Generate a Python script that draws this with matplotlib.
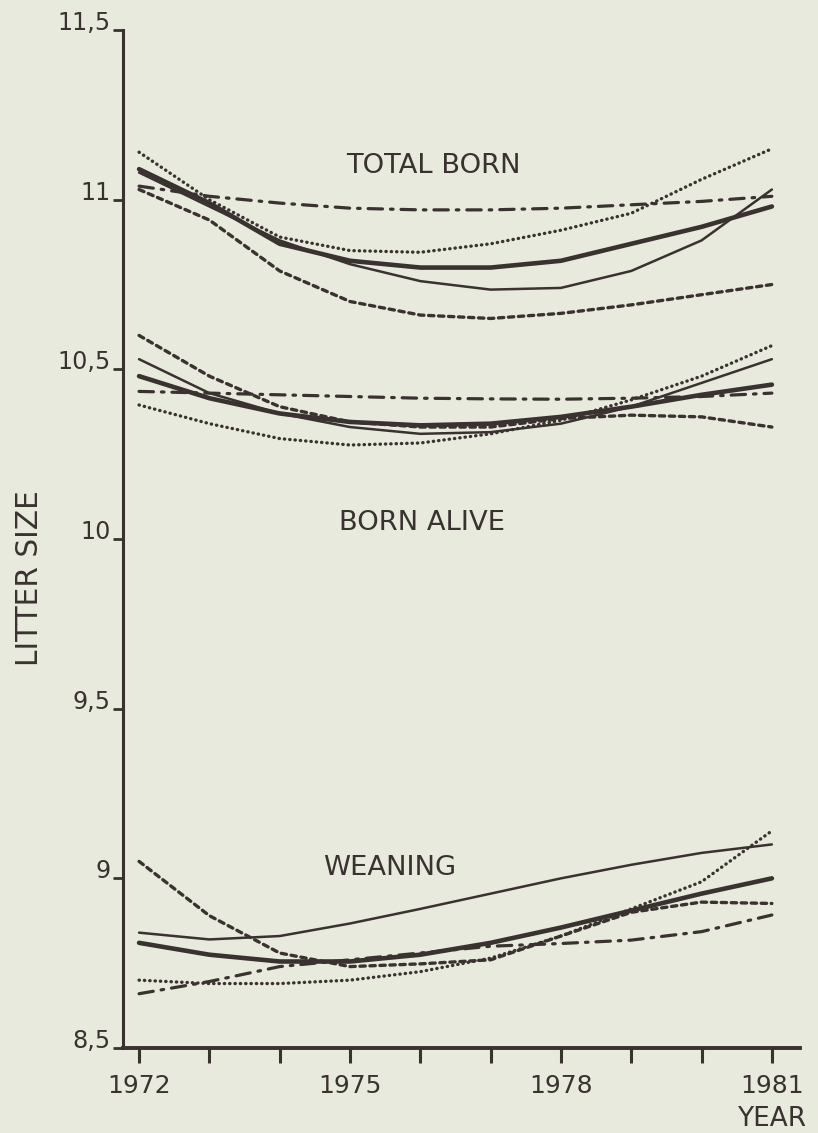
import matplotlib.pyplot as plt
from matplotlib import font_manager

# years on the x axis
years = [1972, 1973, 1974, 1975, 1976, 1977, 1978, 1979, 1980, 1981]
year_labels = ['1972', '', '', '1975', '', '', '1978', '', '', '1981']
y_ticks = [8.5, 9.0, 9.5, 10.0, 10.5, 11.0, 11.5]
y_labels = ['8,5', '9', '9,5', '10', '10,5', '11', '11,5']

# total born
tb_dashdot = [11.04, 11.01, 10.99, 10.975, 10.97, 10.97, 10.975, 10.985, 10.995, 11.01]
tb_dotted = [11.14, 11.00, 10.89, 10.85, 10.845, 10.87, 10.91, 10.96, 11.06, 11.15]
tb_thick = [11.09, 10.99, 10.87, 10.82, 10.80, 10.80, 10.82, 10.87, 10.92, 10.98]
tb_thin = [11.08, 10.98, 10.88, 10.81, 10.76, 10.735, 10.74, 10.79, 10.88, 11.03]
tb_dashed = [11.03, 10.94, 10.79, 10.70, 10.66, 10.65, 10.665, 10.69, 10.72, 10.75]

# born alive
ba_dashed = [10.60, 10.48, 10.39, 10.345, 10.33, 10.33, 10.355, 10.365, 10.36, 10.33]
ba_thin = [10.53, 10.43, 10.37, 10.33, 10.31, 10.315, 10.34, 10.39, 10.46, 10.53]
ba_thick = [10.48, 10.415, 10.37, 10.345, 10.335, 10.34, 10.36, 10.39, 10.425, 10.455]
ba_dashdot = [10.435, 10.43, 10.425, 10.42, 10.415, 10.413, 10.412, 10.415, 10.42, 10.43]
ba_dotted = [10.395, 10.34, 10.296, 10.277, 10.283, 10.31, 10.35, 10.41, 10.48, 10.57]

# weaning
we_thin = [8.84, 8.82, 8.83, 8.867, 8.91, 8.955, 9.0, 9.04, 9.075, 9.10]
we_thick = [8.81, 8.775, 8.755, 8.755, 8.775, 8.81, 8.855, 8.905, 8.955, 9.0]
we_dashed = [9.05, 8.89, 8.78, 8.74, 8.748, 8.76, 8.83, 8.90, 8.93, 8.926]
we_dashdot = [8.66, 8.696, 8.74, 8.76, 8.78, 8.80, 8.808, 8.818, 8.843, 8.892]
we_dotted = [8.70, 8.69, 8.69, 8.70, 8.725, 8.765, 8.83, 8.91, 8.99, 9.14]

bg = '#e8eadd'
ink = '#3a3230'

# pick a narrow face if one is installed, else shrink DejaVu
names = {f.name for f in font_manager.fontManager.ttflist}
if 'Liberation Sans Narrow' in names:
    font, k = ['Liberation Sans Narrow', 'DejaVu Sans'], 1.0
elif 'DejaVu Sans Condensed' in names:
    font, k = ['DejaVu Sans Condensed', 'DejaVu Sans'], 0.92
else:
    font, k = ['DejaVu Sans'], 0.82

fig = plt.figure(figsize=(8.18, 11.33), dpi=100, facecolor=bg)
ax = fig.add_axes([0.1504, 0.075, 0.8276, 0.8985], facecolor=bg)

styles = {
    'thick': dict(lw=3.3, ls='-'),
    'thin': dict(lw=1.8, ls='-'),
    'dashed': dict(lw=2.4, ls=(0, (1.6, 1.4))),
    'dotted': dict(lw=2.4, ls=(0, (0.1, 1.5))),
    'dashdot': dict(lw=2.3, ls=(0, (4.5, 2.5, 0.8, 2.5))),
}

groups = [
    (tb_dashdot, 'dashdot'), (tb_dotted, 'dotted'), (tb_thick, 'thick'),
    (tb_thin, 'thin'), (tb_dashed, 'dashed'),
    (ba_dashed, 'dashed'), (ba_thin, 'thin'), (ba_thick, 'thick'),
    (ba_dashdot, 'dashdot'), (ba_dotted, 'dotted'),
    (we_thin, 'thin'), (we_thick, 'thick'), (we_dashed, 'dashed'),
    (we_dashdot, 'dashdot'), (we_dotted, 'dotted'),
]
for vals, st in groups:
    ax.plot(years, vals, color=ink, solid_capstyle='round',
            dash_capstyle='round', **styles[st])

ax.set_xlim(1971.772, 1981.40)
ax.set_ylim(8.5, 11.5)

for s in ['top', 'right']:
    ax.spines[s].set_visible(False)
ax.spines['left'].set_linewidth(2.2)
ax.spines['bottom'].set_linewidth(2.8)
ax.spines['left'].set_color(ink)
ax.spines['bottom'].set_color(ink)

ax.set_xticks(years)
ax.set_xticklabels(year_labels, family=font, fontsize=22 * k, color=ink)
ax.set_yticks(y_ticks)
ax.set_yticklabels(y_labels, family=font, fontsize=21 * k, color=ink)
for lab in ax.get_yticklabels():
    lab.set_verticalalignment('baseline')
ax.tick_params(axis='x', direction='out', length=11, width=2.2, color=ink, pad=8)
ax.tick_params(axis='y', direction='out', length=7, width=2.0, color=ink, pad=2)

ax.text(1976.18, 11.10, 'TOTAL BORN', family=font, fontsize=24 * k, color=ink,
        ha='center', va='center')
ax.text(1976.03, 10.047, 'BORN ALIVE', family=font, fontsize=24 * k, color=ink,
        ha='center', va='center')
ax.text(1975.57, 9.03, 'WEANING', family=font, fontsize=24 * k, color=ink,
        ha='center', va='center')

fig.text(30 / 818, 1 - 578 / 1133, 'LITTER SIZE', family=font, fontsize=26 * k,
         color=ink, rotation=90, ha='center', va='center')
fig.text(772 / 818, 1 - 1119 / 1133, 'YEAR', family=font, fontsize=23 * k,
         color=ink, ha='center', va='center')

fig.savefig('out.png', dpi=100, facecolor=bg)
